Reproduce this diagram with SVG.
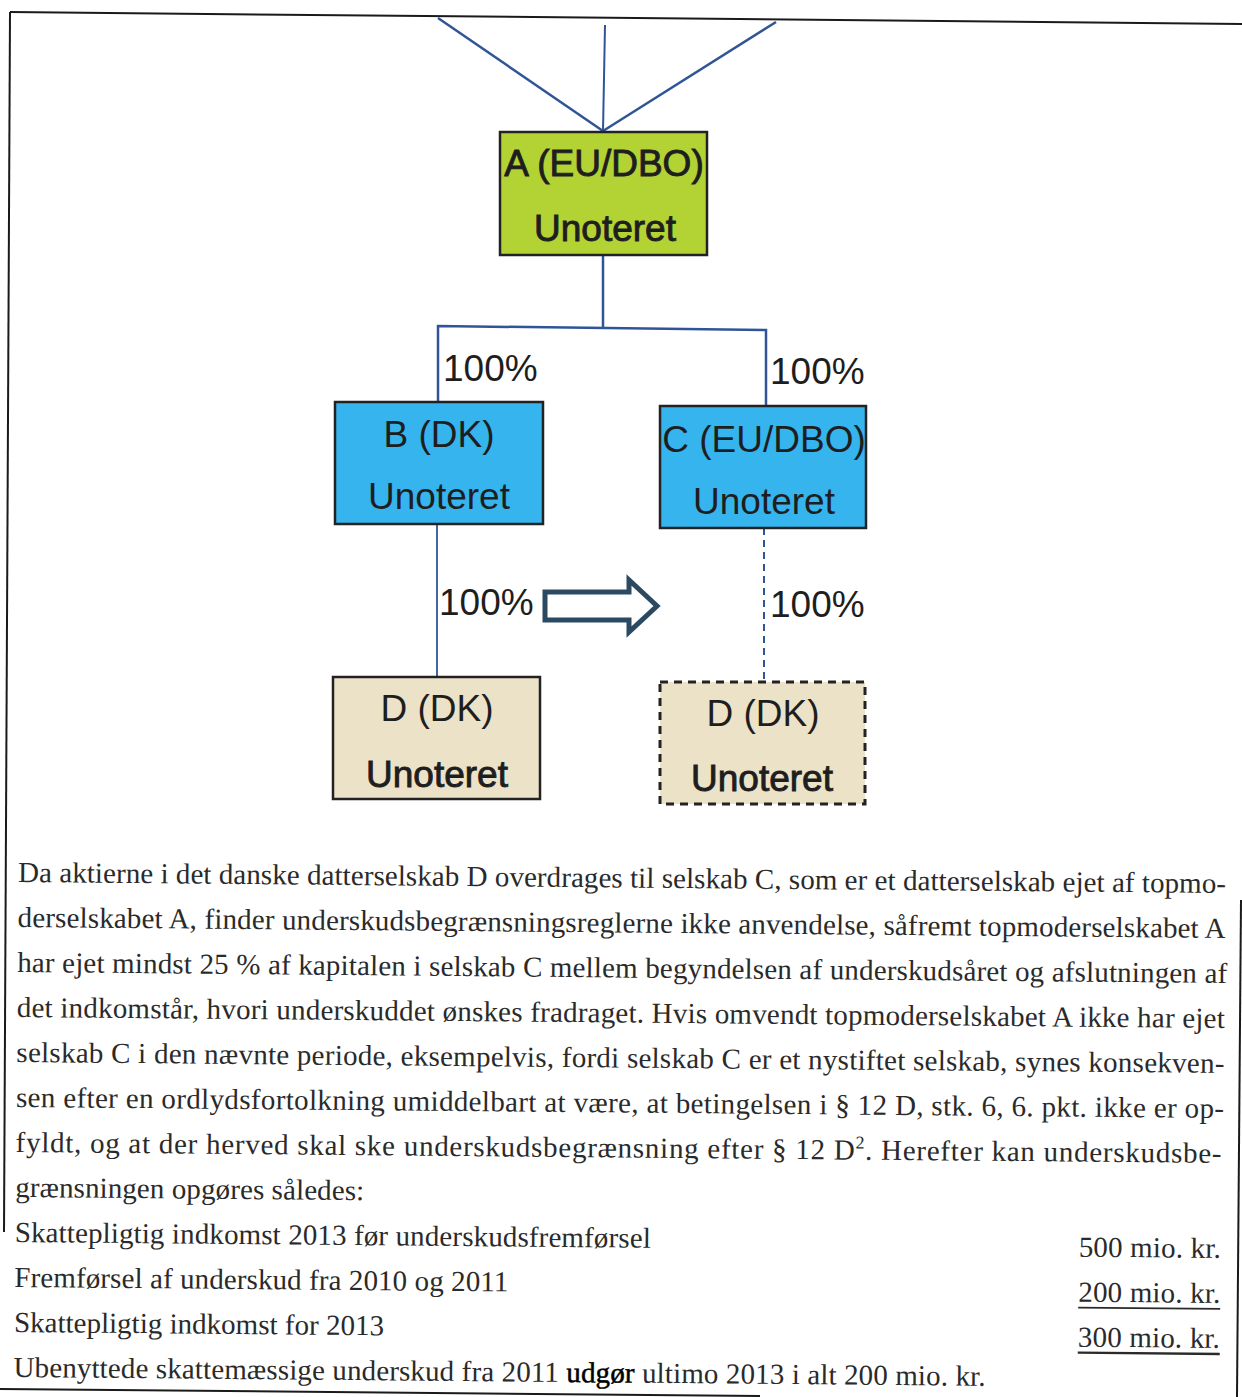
<svg xmlns="http://www.w3.org/2000/svg" width="1242" height="1397" viewBox="0 0 1242 1397">
<style>
.frame{stroke:#1a1a1a;stroke-width:2;fill:none}
.conn{stroke:#2f5597;fill:none}
.box{stroke:#222;stroke-width:2.5}
.lbl{font-family:"Liberation Sans",Arial,sans-serif;font-size:37px;fill:#1e1e1e;text-anchor:middle}
.hv{stroke:#1e1e1e;stroke-width:0.9}
.pct{font-family:"Liberation Sans",Arial,sans-serif;font-size:37px;fill:#1e1e1e}
.body{font-family:"Liberation Serif","Times New Roman",serif;font-size:29px;fill:#2a2a2a}
</style>
<rect width="1242" height="1397" fill="#fff"/>
<g id="frame">
<line class="frame" x1="10" y1="12" x2="1242" y2="24"/>
<line class="frame" x1="10" y1="12" x2="4" y2="1232"/>
<line class="frame" x1="0" y1="1389" x2="760" y2="1396"/>
<line class="frame" x1="1241" y1="900" x2="1237" y2="1397"/>
</g>
<g id="connectors">
<line class="conn" stroke-width="2.5" x1="603" y1="131" x2="438" y2="18"/>
<line class="conn" stroke-width="2" x1="603" y1="131" x2="605" y2="25"/>
<line class="conn" stroke-width="2.5" x1="603" y1="131" x2="776" y2="22"/>
<line class="conn" stroke-width="2.5" x1="603" y1="255" x2="603" y2="328"/>
<polyline class="conn" stroke-width="2.5" points="438,402 438,326 766,330 766,407"/>
<line class="conn" stroke-width="1.8" x1="437" y1="524" x2="437" y2="677"/>
<line class="conn" stroke-width="2" stroke-dasharray="7,5" x1="764" y1="528" x2="764" y2="682"/>
<text class="pct" x="443" y="381">100%</text>
<text class="pct" x="770" y="384">100%</text>
<text class="pct" x="439" y="615">100%</text>
<text class="pct" x="770" y="617">100%</text>
</g>
<g id="arrow">
<polygon points="545,592 629,592 629,580 657,606 629,632 629,620 545,620" fill="#fff" stroke="#2b4a62" stroke-width="5" stroke-linejoin="miter"/>
</g>
<g id="nodeA">
<rect class="box" x="500" y="132" width="207" height="123" fill="#b3d234"/>
<text class="lbl hv" x="604" y="176" stroke-width="0.5">A (EU/DBO)</text>
<text class="lbl hv" x="605" y="241">Unoteret</text>
</g>
<g id="nodeB">
<rect class="box" x="335" y="402" width="208" height="122" fill="#35b4ee"/>
<text class="lbl" x="439" y="447">B (DK)</text>
<text class="lbl" x="439" y="509">Unoteret</text>
</g>
<g id="nodeC">
<rect class="box" x="660" y="406" width="206" height="122" fill="#35b4ee"/>
<text class="lbl" x="764" y="452">C (EU/DBO)</text>
<text class="lbl" x="764" y="514">Unoteret</text>
</g>
<g id="nodeD1">
<rect class="box" x="333" y="677" width="207" height="122" fill="#ece2c8"/>
<text class="lbl" x="437" y="721">D (DK)</text>
<text class="lbl hv" x="437" y="787">Unoteret</text>
</g>
<g id="nodeD2">
<rect x="660" y="682" width="205" height="122" fill="#ece2c8" stroke="#222" stroke-width="3" stroke-dasharray="8,6"/>
<text class="lbl" x="763" y="726">D (DK)</text>
<text class="lbl hv" x="762" y="791">Unoteret</text>
</g>
<g id="text" transform="rotate(0.52 18 882)">
<text class="body" x="18" y="882" textLength="1208" lengthAdjust="spacing">Da aktierne i det danske datterselskab D overdrages til selskab C, som er et datterselskab ejet af topmo-</text>
<text class="body" x="18" y="927" textLength="1208" lengthAdjust="spacing">derselskabet A, finder underskudsbegrænsningsreglerne ikke anvendelse, såfremt topmoderselskabet A</text>
<text class="body" x="18" y="972" textLength="1210" lengthAdjust="spacing">har ejet mindst 25 % af kapitalen i selskab C mellem begyndelsen af underskudsåret og afslutningen af</text>
<text class="body" x="18" y="1017" textLength="1208" lengthAdjust="spacing">det indkomstår, hvori underskuddet ønskes fradraget. Hvis omvendt topmoderselskabet A ikke har ejet</text>
<text class="body" x="18" y="1062" textLength="1208" lengthAdjust="spacing">selskab C i den nævnte periode, eksempelvis, fordi selskab C er et nystiftet selskab, synes konsekven-</text>
<text class="body" x="18" y="1107" textLength="1208" lengthAdjust="spacing">sen efter en ordlydsfortolkning umiddelbart at være, at betingelsen i § 12 D, stk. 6, 6. pkt. ikke er op-</text>
<text class="body" x="18" y="1152" textLength="1206" lengthAdjust="spacing">fyldt, og at der herved skal ske underskudsbegrænsning efter § 12 D<tspan font-size="18" dy="-11">2</tspan><tspan dy="11">. Herefter kan underskudsbe-</tspan></text>
<text class="body" x="18" y="1197" textLength="349" lengthAdjust="spacing">grænsningen opgøres således:</text>
<text class="body" x="18" y="1242" textLength="636" lengthAdjust="spacing">Skattepligtig indkomst 2013 før underskudsfremførsel</text>
<text class="body" x="18" y="1287" textLength="494" lengthAdjust="spacing">Fremførsel af underskud fra 2010 og 2011</text>
<text class="body" x="18" y="1332" textLength="370" lengthAdjust="spacing">Skattepligtig indkomst for 2013</text>
<text class="body" x="18" y="1377" textLength="972" lengthAdjust="spacing">Ubenyttede skattemæssige underskud fra 2011 <tspan fill="#000" stroke="#000" stroke-width="0.5">udgør</tspan> ultimo 2013 i alt 200 mio. kr.</text>
<text class="body" x="1082" y="1247" textLength="142" lengthAdjust="spacing">500 mio. kr.</text>
<text class="body" x="1082" y="1292" textLength="142" lengthAdjust="spacing">200 mio. kr.</text>
<text class="body" x="1082" y="1337" textLength="142" lengthAdjust="spacing">300 mio. kr.</text>
<line x1="1082" y1="1298" x2="1224" y2="1298" stroke="#2a2a2a" stroke-width="1.8"/>
<line x1="1082" y1="1343" x2="1224" y2="1343" stroke="#2a2a2a" stroke-width="2.4"/>
</g>
</svg>
